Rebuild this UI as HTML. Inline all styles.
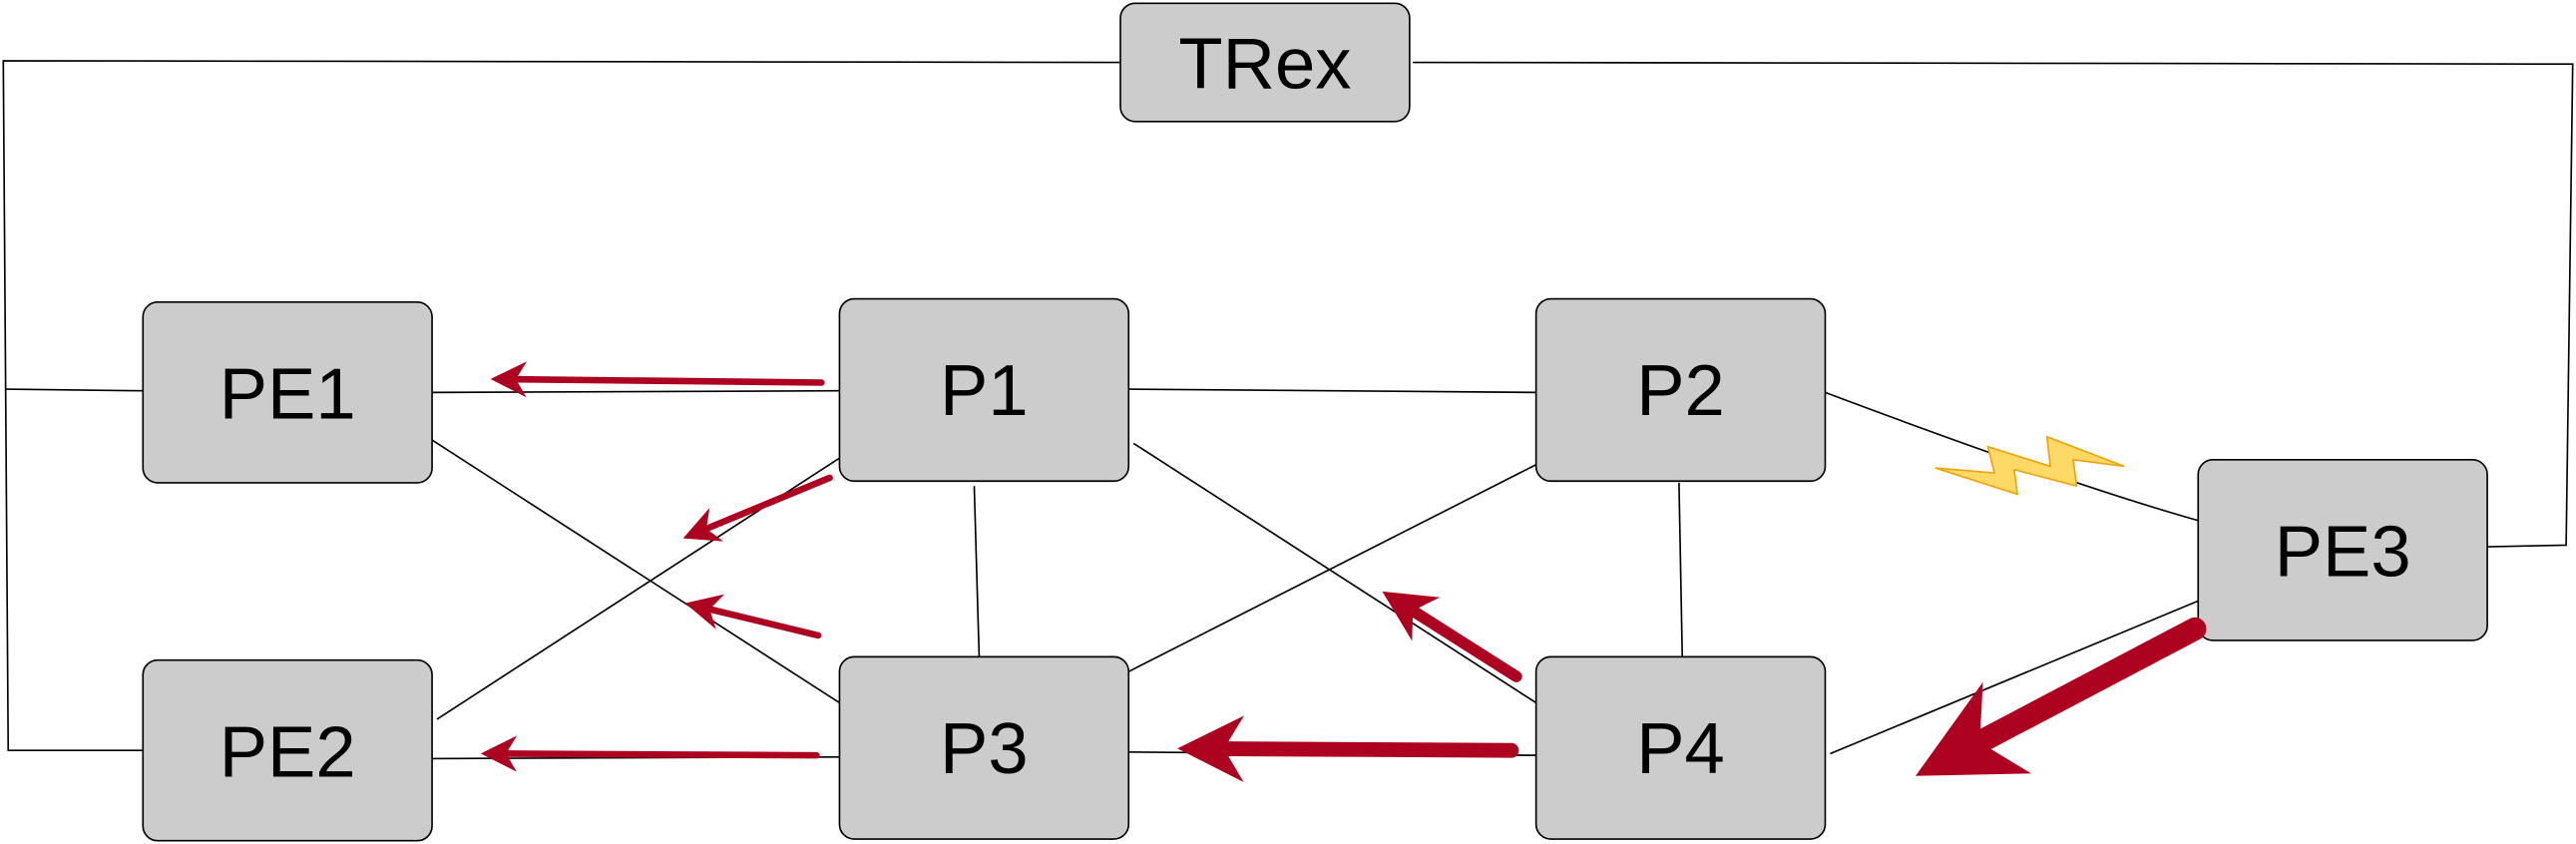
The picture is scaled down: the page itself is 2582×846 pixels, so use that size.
<!DOCTYPE html>
<html><head><meta charset="utf-8"><style>
html,body{margin:0;padding:0;background:#fff;}
svg{display:block;}
text{font-family:"Liberation Sans",sans-serif;font-size:44px;fill:#000;text-anchor:middle;dominant-baseline:central;}
</style></head><body>
<svg width="2582" height="846" viewBox="0 0 1568 514" preserveAspectRatio="none" xmlns="http://www.w3.org/2000/svg">
<defs>
<marker id="ah" viewBox="0 0 10 10" refX="3" refY="5" markerWidth="5" markerHeight="4.5" orient="auto" markerUnits="strokeWidth">
<path d="M0,0 L10,5 L0,10 L3,5 z" fill="#AD0320"/>
</marker>
<marker id="ah2" viewBox="0 0 10 10" refX="3" refY="5" markerWidth="6" markerHeight="5.5" orient="auto" markerUnits="strokeWidth">
<path d="M0,0 L10,5 L0,10 L3,5 z" fill="#AD0320"/>
</marker>
</defs>
<g stroke="#000" stroke-width="1" fill="none">
<polyline points="682,38 2,37 5,457 87,457"/>
<line x1="3" y1="237" x2="87" y2="238"/>
<polyline points="860,38 1566,39 1562,332 1514,333"/>
<line x1="263" y1="239" x2="511" y2="238"/>
<line x1="687" y1="237" x2="935" y2="239"/>
<path d="M1111,239 Q1260,295 1338,317"/>
<line x1="1338" y1="366" x2="1114" y2="459"/>
<line x1="263" y1="268" x2="511" y2="428"/>
<line x1="266" y1="438" x2="511" y2="279"/>
<line x1="593" y1="296" x2="596" y2="400"/>
<line x1="690" y1="270" x2="935" y2="428"/>
<line x1="935" y1="283" x2="687" y2="409"/>
<line x1="1022" y1="294" x2="1024" y2="400"/>
<line x1="263" y1="462" x2="511" y2="461"/>
<line x1="687" y1="458" x2="935" y2="460"/>
</g>
<g fill="#CCCCCC" stroke="#000" stroke-width="1">
<rect x="682" y="2" width="176" height="72" rx="9"/>
<rect x="87" y="184" width="176" height="110" rx="9"/>
<rect x="511" y="182" width="176" height="111" rx="9"/>
<rect x="935" y="182" width="176" height="111" rx="9"/>
<rect x="1338" y="280" width="176" height="110" rx="9"/>
<rect x="87" y="402" width="176" height="110" rx="9"/>
<rect x="511" y="400" width="176" height="111" rx="9"/>
<rect x="935" y="400" width="176" height="111" rx="9"/>
</g>
<text x="770" y="39">TRex</text>
<text x="175" y="240">PE1</text>
<text x="599" y="238">P1</text>
<text x="1023" y="238">P2</text>
<text x="1426" y="336">PE3</text>
<text x="175" y="458">PE2</text>
<text x="599" y="456">P3</text>
<text x="1023" y="456">P4</text>
<polygon points="1178,285 1214,288 1210,272 1248,284 1246,266 1293,284 1262,280 1264,296 1226,286 1228,301" fill="#FFD966" stroke="#F0A30A" stroke-width="1"/>
<g stroke="#AD0320" fill="none" stroke-linecap="round">
<line x1="500" y1="233" x2="314" y2="231" stroke-width="4" marker-end="url(#ah2)"/>
<line x1="505" y1="291" x2="430" y2="322" stroke-width="4" marker-end="url(#ah2)"/>
<line x1="498" y1="387" x2="432" y2="371" stroke-width="4" marker-end="url(#ah2)"/>
<line x1="923" y1="412" x2="860" y2="372" stroke-width="7" marker-end="url(#ah)"/>
<line x1="920" y1="457" x2="745" y2="456" stroke-width="9" marker-end="url(#ah)"/>
<line x1="1336" y1="383" x2="1205" y2="452" stroke-width="14" marker-end="url(#ah)"/>
<line x1="497" y1="460" x2="308" y2="459" stroke-width="4" marker-end="url(#ah2)"/>
</g>
</svg>
</body></html>
